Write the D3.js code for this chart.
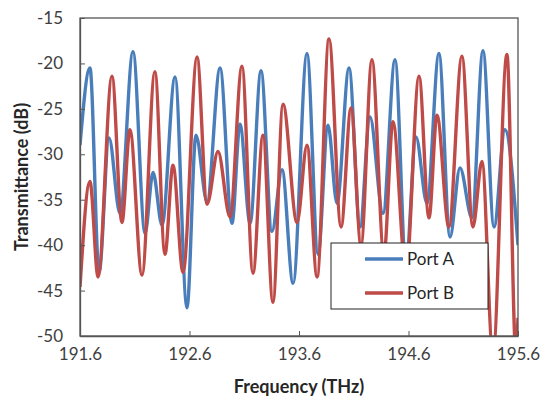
<!DOCTYPE html>
<html>
<head>
<meta charset="utf-8">
<script src="https://cdn.jsdelivr.net/npm/d3@7"></script>
<style>
  body { margin: 0; background: #fff; }
  svg { display: block; font-family: Lato, "Open Sans", sans-serif; }
</style>
</head>
<body>
<div id="chart"></div>
<script>
// Chart size and margins
const WIDTH = 544;
const HEIGHT = 400;
const MARGIN = { left: 80, right: 26, top: 18, bottom: 64 };

// Port A (blue) peaks and dips
const freqA = [191.600, 191.691, 191.774, 191.865, 191.965, 192.084, 192.194, 192.267, 192.349, 192.468,
               192.577, 192.659, 192.760, 192.879, 192.988, 193.061, 193.153, 193.253, 193.353, 193.445,
               193.546, 193.673, 193.774, 193.865, 193.947, 194.057, 194.157, 194.248, 194.367, 194.477,
               194.577, 194.668, 194.769, 194.878, 194.979, 195.070, 195.180, 195.280, 195.381, 195.481,
               195.600];
const dbA = [-29, -20.5, -43, -28.2, -36.5, -18.7, -38.7, -32, -37.8, -21.5,
             -46.9, -27.9, -35.2, -20.5, -37.6, -26.7, -37.6, -20.8, -38.5, -31.7,
             -44.2, -18.9, -41, -26.8, -35.4, -20.5, -38, -25.9, -36.5, -19.6,
             -42, -28.1, -35.4, -18.9, -39.1, -31.5, -37, -18.6, -38, -27.3,
             -40];

// Port B (red) peaks and dips
const freqB = [191.600, 191.691, 191.765, 191.892, 191.983, 192.056, 192.166, 192.284, 192.376, 192.449,
               192.541, 192.669, 192.760, 192.860, 192.970, 193.079, 193.180, 193.271, 193.362, 193.454,
               193.582, 193.673, 193.765, 193.874, 193.984, 194.075, 194.166, 194.266, 194.376, 194.458,
               194.577, 194.696, 194.787, 194.860, 194.969, 195.088, 195.188, 195.271, 195.371, 195.499,
               195.581, 195.600];
const dbB = [-44.6, -33, -43.5, -21.4, -37.5, -27.3, -43.3, -20.9, -41, -31.2,
             -43, -19.3, -35.5, -29.7, -36.9, -20.3, -43.1, -27.9, -46.3, -24.5,
             -37.5, -29, -43.5, -17.3, -38, -24.9, -40, -19.6, -41, -26.4,
             -43, -21.4, -37, -25.7, -38, -19.2, -38, -30.8, -52, -19,
             -52, -48];

const xTicks = [191.6, 192.6, 193.6, 194.6, 195.6];
const yTicks = [-50, -45, -40, -35, -30, -25, -20, -15];

const seriesNames = ["Port A", "Port B"];
const seriesColors = ["#4a7ebb", "#be4b48"];

const svg = d3.select("#chart").append("svg")
  .attr("width", WIDTH)
  .attr("height", HEIGHT);

const x = d3.scaleLinear()
  .domain([191.6, 195.6])
  .range([MARGIN.left, WIDTH - MARGIN.right]);
const y = d3.scaleLinear()
  .domain([-50, -15])
  .range([HEIGHT - MARGIN.bottom, MARGIN.top]);

svg.append("clipPath").attr("id", "plot-clip")
  .append("rect")
  .attr("x", MARGIN.left)
  .attr("y", MARGIN.top)
  .attr("width", WIDTH - MARGIN.left - MARGIN.right)
  .attr("height", HEIGHT - MARGIN.top - MARGIN.bottom);

// Lines
const line = d3.line()
  .x(d => x(d[0]))
  .y(d => y(d[1]))
  .curve(d3.curveMonotoneX);

const series = [
  d3.zip(freqA, dbA),
  d3.zip(freqB, dbB)
];

svg.append("g").attr("clip-path", "url(#plot-clip)")
  .selectAll("path")
  .data(series)
  .join("path")
  .attr("d", line)
  .attr("fill", "none")
  .attr("stroke", (d, i) => seriesColors[i])
  .attr("stroke-width", 3.4)
  .attr("stroke-linejoin", "round");

// Plot frame
svg.append("rect")
  .attr("x", MARGIN.left)
  .attr("y", MARGIN.top)
  .attr("width", WIDTH - MARGIN.left - MARGIN.right)
  .attr("height", HEIGHT - MARGIN.top - MARGIN.bottom)
  .attr("fill", "none")
  .attr("stroke", "#555")
  .attr("stroke-width", 1.3);

// Axes, ticks pointing inward
const xAxis = d3.axisBottom(x).tickValues(xTicks).tickFormat(d3.format(".1f"))
  .tickSizeInner(-5).tickSizeOuter(0).tickPadding(12);
const yAxis = d3.axisLeft(y).tickValues(yTicks).tickFormat(d => d3.format("d")(d).replace("−", "-"))
  .tickSizeInner(-5).tickSizeOuter(0).tickPadding(17);

const gx = svg.append("g")
  .attr("transform", "translate(0," + (HEIGHT - MARGIN.bottom) + ")")
  .call(xAxis);
const gy = svg.append("g")
  .attr("transform", "translate(" + MARGIN.left + ",0)")
  .call(yAxis);

[gx, gy].forEach(g => {
  g.select(".domain").attr("stroke", "#555").attr("stroke-width", 1.3);
  g.selectAll(".tick line").attr("stroke", "#555");
  g.selectAll(".tick text")
    .attr("fill", "#404040")
    .style("font-size", "17px")
    .style("font-family", "Lato, sans-serif");
});

// Axis titles
svg.append("text")
  .attr("x", (MARGIN.left + WIDTH - MARGIN.right) / 2)
  .attr("y", 393)
  .attr("text-anchor", "middle")
  .attr("fill", "#262626")
  .style("font-size", "18px")
  .style("font-weight", "bold")
  .text("Frequency (THz)");

svg.append("text")
  .attr("transform", "translate(28," + ((MARGIN.top + HEIGHT - MARGIN.bottom) / 2) + ") rotate(-90)")
  .attr("text-anchor", "middle")
  .attr("fill", "#262626")
  .style("font-size", "18px")
  .style("font-weight", "bold")
  .text("Transmittance (dB)");

// Legend
const legend = svg.append("g").attr("transform", "translate(331,243)");
legend.append("rect")
  .attr("width", 157)
  .attr("height", 66)
  .attr("fill", "#fff")
  .attr("stroke", "#222")
  .attr("stroke-width", 1);

seriesNames.forEach((name, i) => {
  const row = legend.append("g").attr("transform", "translate(0," + (16 + i * 34) + ")");
  row.append("line")
    .attr("x1", 34).attr("x2", 72)
    .attr("stroke", seriesColors[i])
    .attr("stroke-width", 3.4);
  row.append("text")
    .attr("x", 76)
    .attr("dy", "0.35em")
    .attr("fill", "#262626")
    .style("font-size", "17px")
    .text(name);
});
</script>
</body>
</html>
